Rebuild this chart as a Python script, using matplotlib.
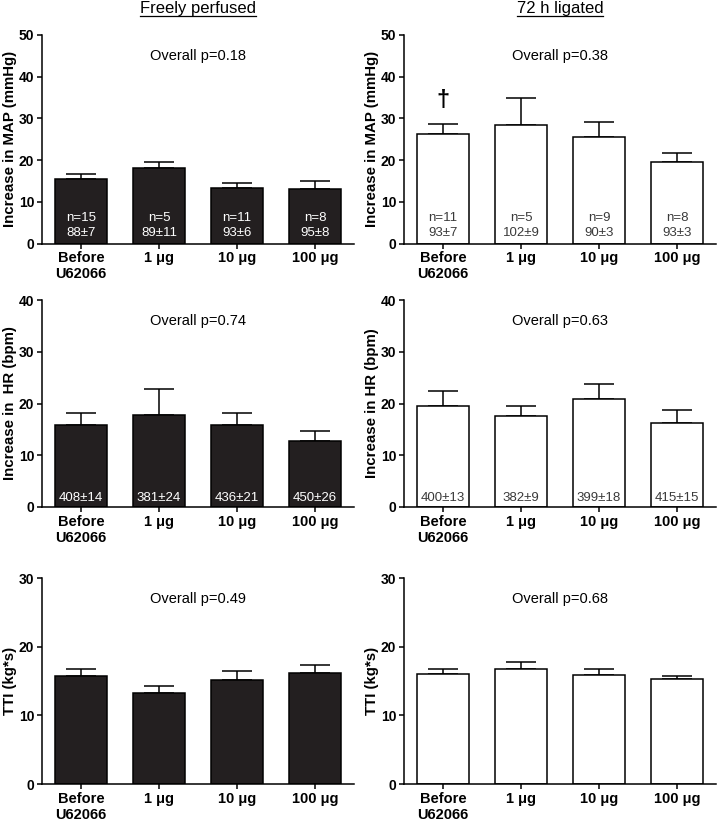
import matplotlib
matplotlib.use('Agg')
import matplotlib.pyplot as plt
from matplotlib.lines import Line2D
import numpy as np

plt.rcParams['font.family'] = ['Liberation Sans', 'DejaVu Sans']

groups = ['Before\nU62066', '1 μg', '10 μg', '100 μg']
col_titles = ['Freely perfused', '72 h ligated']

# MAP (mmHg)
map_free = [15.4, 18.1, 13.3, 13.1]
map_free_err = [1.2, 1.5, 1.1, 2.0]
map_lig = [26.2, 28.3, 25.6, 19.6]
map_lig_err = [2.5, 6.6, 3.6, 2.0]
map_p = ['0.18', '0.38']
map_n_free = ['15', '5', '11', '8']
map_n_lig = ['11', '5', '9', '8']
map_base_free = ['88±7', '89±11', '93±6', '95±8']
map_base_lig = ['93±7', '102±9', '90±3', '93±3']

# HR (bpm)
hr_free = [15.9, 17.8, 15.8, 12.8]
hr_free_err = [2.3, 5.0, 2.3, 1.8]
hr_lig = [19.5, 17.6, 20.9, 16.3]
hr_lig_err = [2.9, 1.9, 2.9, 2.4]
hr_p = ['0.74', '0.63']
hr_base_free = ['408±14', '381±24', '436±21', '450±26']
hr_base_lig = ['400±13', '382±9', '399±18', '415±15']

# TTI (kg*s)
tti_free = [15.7, 13.3, 15.1, 16.1]
tti_free_err = [1.0, 0.9, 1.3, 1.2]
tti_lig = [16.0, 16.7, 15.9, 15.3]
tti_lig_err = [0.7, 1.0, 0.8, 0.5]
tti_p = ['0.49', '0.68']

dark = '#231f20'
W, H = 718, 827
fig = plt.figure(figsize=(W / 100, H / 100), dpi=100)

col_left = [42, 404]
ax_w = 312
rows = [(243.5, 208.5), (507, 207), (784, 206)]  # (bottom px, height px)


def make_ax(row, col):
    b, h = rows[row]
    ax = fig.add_axes([col_left[col] / W, 1 - b / H, ax_w / W, h / H])
    return ax


def draw(ax, vals, errs, filled, ymax, ylabel, p):
    x = np.arange(len(vals))
    ax.bar(x, vals, 0.67, color=dark if filled else 'white', edgecolor='black',
           linewidth=1.1, zorder=2)
    ax.errorbar(x, vals, yerr=[np.zeros(len(errs)), errs], fmt='none', ecolor='black',
                elinewidth=1.1, capsize=11, capthick=1.1, zorder=1)
    ax.set_xlim(-0.5, 3.5)
    ax.set_ylim(0, ymax)
    ax.set_yticks(np.arange(0, ymax + 1, 10))
    ax.set_xticks(x)
    ax.set_xticklabels(groups, fontsize=10.5, fontweight='bold', linespacing=1.2)
    for lab in ax.get_yticklabels():
        lab.set_fontweight('bold')
        lab.set_fontsize(10)
    ax.spines['top'].set_visible(False)
    ax.spines['right'].set_visible(False)
    for s in ['left', 'bottom']:
        ax.spines[s].set_linewidth(1.1)
    ax.tick_params(axis='both', direction='out', length=3.5, width=1.1, pad=2)
    ax.set_ylabel(ylabel, fontsize=10.8, fontweight='bold')
    ax.yaxis.set_label_coords(-0.08, 0.5)
    ax.text(0.5, 0.9, 'Overall p=' + p, transform=ax.transAxes, ha='center', va='center',
            fontsize=10.5)


# row 1: MAP
ax = make_ax(0, 0)
draw(ax, map_free, map_free_err, True, 50, 'Increase in MAP (mmHg)', map_p[0])
for i in range(4):
    ax.text(i, 6.0, 'n=' + map_n_free[i], ha='center', va='center', color='white', fontsize=9.5)
    ax.text(i, 2.4, map_base_free[i], ha='center', va='center', color='white', fontsize=9.5)

ax = make_ax(0, 1)
draw(ax, map_lig, map_lig_err, False, 50, 'Increase in MAP (mmHg)', map_p[1])
for i in range(4):
    ax.text(i, 6.1, 'n=' + map_n_lig[i], ha='center', va='center', color='#3a3a3a', fontsize=9.5)
    ax.text(i, 2.5, map_base_lig[i], ha='center', va='center', color='#3a3a3a', fontsize=9.5)
ax.text(0, 34.2, '†', ha='center', va='center', fontsize=17, fontweight='bold')

# row 2: HR
ax = make_ax(1, 0)
draw(ax, hr_free, hr_free_err, True, 40, 'Increase in  HR (bpm)', hr_p[0])
for i in range(4):
    ax.text(i, 1.7, hr_base_free[i], ha='center', va='center', color='white', fontsize=9.5)

ax = make_ax(1, 1)
draw(ax, hr_lig, hr_lig_err, False, 40, 'Increase in HR (bpm)', hr_p[1])
for i in range(4):
    ax.text(i, 1.7, hr_base_lig[i], ha='center', va='center', color='#3a3a3a', fontsize=9.5)

# row 3: TTI
ax = make_ax(2, 0)
draw(ax, tti_free, tti_free_err, True, 30, 'TTI (kg*s)', tti_p[0])
ax = make_ax(2, 1)
draw(ax, tti_lig, tti_lig_err, False, 30, 'TTI (kg*s)', tti_p[1])

# underlined column titles
fig.canvas.draw()
renderer = fig.canvas.get_renderer()
for col, title in enumerate(col_titles):
    cx = (col_left[col] + ax_w / 2) / W
    t = fig.text(cx, 1 - 13 / H, title, ha='center', va='baseline', fontsize=12)
    bb = t.get_window_extent(renderer=renderer)
    y_line = 1 - 15.5 / H
    fig.add_artist(Line2D([bb.x0 / W, bb.x1 / W], [y_line, y_line], color='black',
                          linewidth=0.9, transform=fig.transFigure))

fig.savefig('out.png', dpi=100)
